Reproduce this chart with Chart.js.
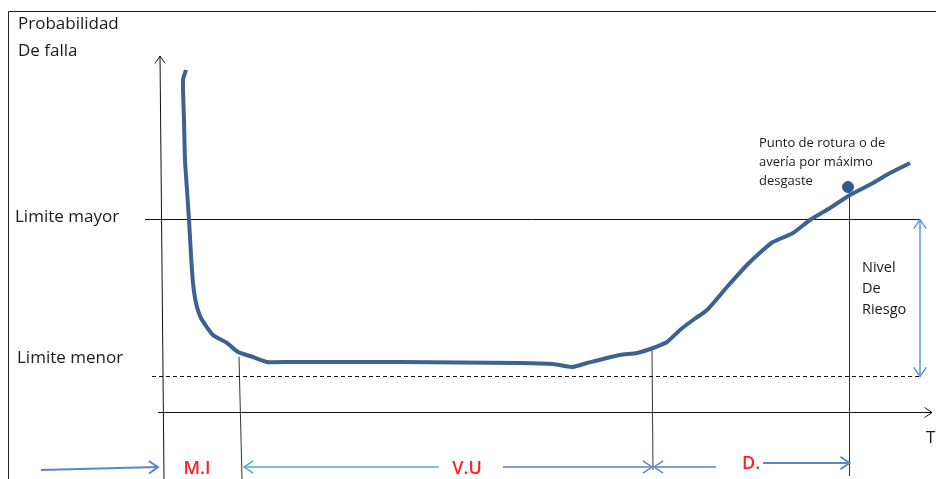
<!DOCTYPE html>
<html>
<head>
<meta charset="utf-8">
<script src="https://cdn.jsdelivr.net/npm/chart.js@4"></script>
<style>
  body { margin: 0; background: #fff; }
  canvas { display: block; }
</style>
</head>
<body>
<canvas id="curvaBanera" width="936" height="479"></canvas>
<script>
// curva de la bañera: tiempo (eje x) y probabilidad de falla (eje y), en unidades del dibujo
const curvaT = [26, 23, 24, 25, 27, 29, 31, 33, 36, 41, 53, 67, 78, 90, 107, 130, 240, 360, 393, 412, 427,
  460, 477, 493, 507, 520, 533, 547, 567, 587, 603, 613, 633, 650, 670, 690, 713, 730, 750];
const curvaP = [342, 332, 292, 252, 222, 192, 157, 129, 109, 94, 77, 69, 60, 56, 50, 50, 50, 49, 48, 45, 49,
  57, 59, 64, 70, 82, 92, 102, 125, 147, 162, 170, 179, 192, 204, 217, 229, 239, 249];

const limiteMayor = 192.5; // nivel del limite mayor
const limiteMenor = 35.5;  // nivel del limite menor
const fronteras = [80, 493, 689.5]; // fin de M.I, fin de V.U, fin de D.
const puntoRotura = { t: 688, p: 225 };
const etapas = ['M.I', 'V.U', 'D.'];
const tituloEje = ['Probabilidad', 'De falla'];
const nivelRiesgo = ['Nivel', 'De', 'Riesgo'];
const notaRotura = ['Punto de rotura o de', 'avería por máximo', 'desgaste'];

const AZUL = '#5a86c4';
const fuente = '"Open Sans", "Noto Sans", sans-serif';

// dibuja una flecha abierta (tipo chevron) de (x1,y1) a (x2,y2)
function flecha(ctx, x1, y1, x2, y2, color, ancho, punta, inicio) {
  ctx.save();
  ctx.strokeStyle = color;
  ctx.lineWidth = ancho;
  ctx.beginPath();
  ctx.moveTo(x1, y1);
  ctx.lineTo(x2, y2);
  ctx.stroke();
  const cabeza = (ax, ay, bx, by) => {
    const ang = Math.atan2(by - ay, bx - ax);
    ctx.beginPath();
    ctx.moveTo(bx - punta * Math.cos(ang - 0.6), by - punta * Math.sin(ang - 0.6));
    ctx.lineTo(bx, by);
    ctx.lineTo(bx - punta * Math.cos(ang + 0.6), by - punta * Math.sin(ang + 0.6));
    ctx.stroke();
  };
  cabeza(x1, y1, x2, y2);
  if (inicio) cabeza(x2, y2, x1, y1);
  ctx.restore();
}

const dibujoExtra = {
  id: 'dibujoExtra',
  afterDatasetsDraw(chart) {
    const ctx = chart.ctx;
    const X = v => chart.scales.x.getPixelForValue(v);
    const Y = v => chart.scales.y.getPixelForValue(v);

    ctx.save();
    // marco
    ctx.strokeStyle = '#222';
    ctx.lineWidth = 1;
    ctx.beginPath();
    ctx.moveTo(X(-151.5), Y(-67));
    ctx.lineTo(X(-151.5), Y(400.5));
    ctx.lineTo(X(776), Y(400.5));
    ctx.stroke();

    // ejes
    flecha(ctx, X(4), Y(-67), X(0), Y(356), '#111', 1, 9, false);
    flecha(ctx, X(-2), Y(-0.5), X(772), Y(-0.5), '#111', 1, 9, false);

    // nivel de riesgo
    flecha(ctx, X(760), Y(limiteMenor), X(760), Y(limiteMayor), '#5b9bd5', 1.5, 11, true);

    // flechas de las etapas
    flecha(ctx, X(-119), Y(-58), X(-2), Y(-55), AZUL, 2, 11, false);
    flecha(ctx, X(279), Y(-55), X(fronteras[0] + 4), Y(-55), '#4bacc6', 1.5, 11, false);
    flecha(ctx, X(343), Y(-55), X(fronteras[1] - 1), Y(-55), AZUL, 1.5, 11, false);
    flecha(ctx, X(556), Y(-55), X(fronteras[1] + 1), Y(-55), AZUL, 1.5, 11, false);
    flecha(ctx, X(603), Y(-51), X(fronteras[2]), Y(-51), AZUL, 2, 11, false);

    // textos
    ctx.fillStyle = '#1a1a1a';
    ctx.textBaseline = 'middle';
    ctx.textAlign = 'left';
    ctx.font = '17px ' + fuente;
    ctx.fillText(tituloEje[0], X(-142), Y(388));
    ctx.fillText(tituloEje[1], X(-142), Y(361));
    ctx.fillText('Limite mayor', X(-145), Y(195));
    ctx.fillText('Limite menor', X(-143), Y(54));
    ctx.fillText('T', X(766), Y(-26));
    ctx.font = '14.5px ' + fuente;
    nivelRiesgo.forEach((s, i) => ctx.fillText(s, X(702), Y(144 - i * 21)));
    ctx.font = '13px ' + fuente;
    notaRotura.forEach((s, i) => ctx.fillText(s, X(599), Y(269 - i * 19)));

    ctx.fillStyle = '#ff2020';
    ctx.textAlign = 'center';
    ctx.font = '600 18px ' + fuente;
    ctx.fillText(etapas[0], X(37), Y(-57));
    ctx.fillText(etapas[1], X(307), Y(-57));
    ctx.fillText(etapas[2], X(591), Y(-52));
    ctx.restore();
  }
};

const linea = (puntos, extra) => Object.assign({
  data: puntos,
  showLine: true,
  borderColor: '#111',
  borderWidth: 1,
  pointRadius: 0,
  fill: false
}, extra);

const ctx = document.getElementById('curvaBanera').getContext('2d');
new Chart(ctx, {
  type: 'scatter',
  data: {
    datasets: [
      linea(curvaT.map((t, i) => ({ x: t, y: curvaP[i] })), { borderColor: '#3b6293', borderWidth: 4, tension: 0.2 }),
      linea([{ x: -15, y: limiteMayor }, { x: 760, y: limiteMayor }]),
      linea([{ x: -8, y: limiteMenor }, { x: 760, y: limiteMenor }], { borderDash: [4, 3] }),
      linea([{ x: fronteras[0] - 1, y: 55 }, { x: fronteras[0] + 2, y: -67 }], { borderColor: '#333' }),
      linea([{ x: fronteras[1] - 1, y: 62 }, { x: fronteras[1], y: -58 }], { borderColor: '#333' }),
      linea([{ x: fronteras[2], y: 219 }, { x: fronteras[2], y: -64 }], { borderColor: '#333' }),
      { data: [{ x: puntoRotura.t, y: puntoRotura.p }], pointRadius: 5.5, backgroundColor: '#2f5a8f', borderColor: '#2f5a8f' }
    ]
  },
  options: {
    responsive: false,
    animation: false,
    layout: { padding: 0, autoPadding: false },
    plugins: { legend: { display: false }, tooltip: { enabled: false } },
    scales: {
      x: { type: 'linear', min: -160, max: 776, display: false },
      y: { type: 'linear', min: -67, max: 412, display: false }
    },
    clip: false
  },
  plugins: [dibujoExtra]
});
</script>
</body>
</html>
